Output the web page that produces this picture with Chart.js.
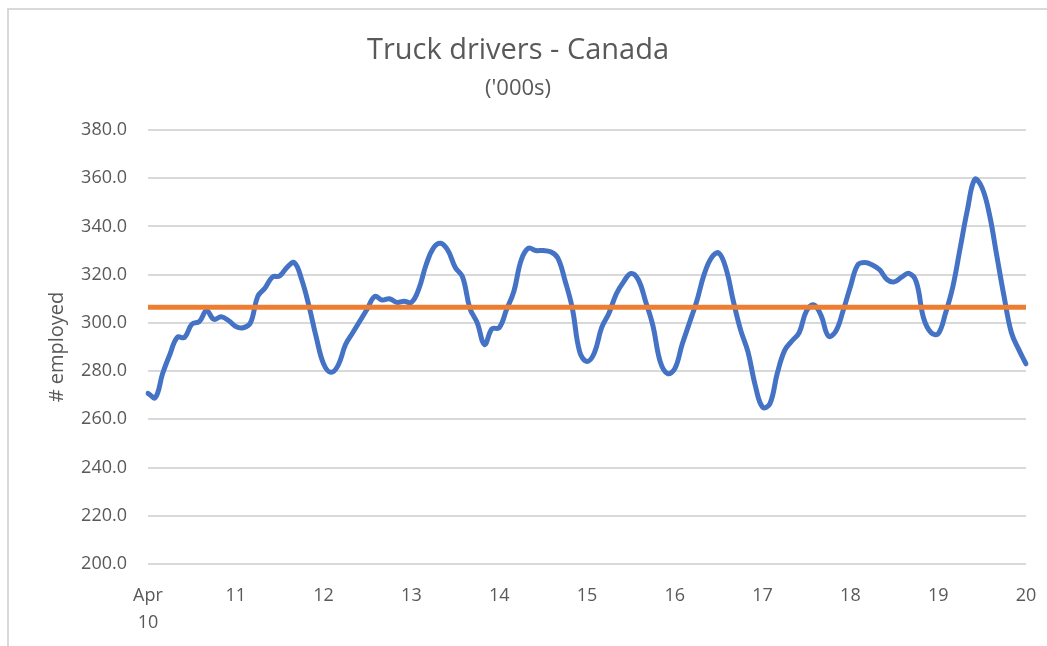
<!DOCTYPE html>
<html>
<head>
<meta charset="utf-8">
<script src="https://cdn.jsdelivr.net/npm/chart.js@4/dist/chart.umd.min.js"></script>
<style>
  html, body { margin: 0; padding: 0; background: #ffffff; }
  #wrap { position: relative; width: 1047px; height: 646px; overflow: hidden; }
  #frame { position: absolute; left: 7px; top: 8px; width: 1100px; height: 700px;
           border-top: 2px solid #d9d9d9; border-left: 2px solid #d9d9d9; box-sizing: border-box; }
  #c { position: absolute; left: 0; top: 0; }
</style>
</head>
<body>
<div id="wrap">
  <div id="frame"></div>
  <canvas id="c" width="1047" height="646"></canvas>
</div>
<script>
// ---- data ----
const titleText = 'Truck drivers - Canada';
const subtitleText = "('000s)";
const yAxisTitle = '# employed';

// monthly categories, Apr 2010 .. Apr 2020 (121 months)
const monthNames = ['Jan','Feb','Mar','Apr','May','Jun','Jul','Aug','Sep','Oct','Nov','Dec'];
const months = [];
for (let k = 0; k < 121; k++) {
  const m = (3 + k) % 12;
  const y = 2010 + Math.floor((3 + k) / 12);
  months.push(monthNames[m] + ' ' + y);
}

// year tick labels shown every 12 months
const yearTicks = [['Apr', '10'], '11', '12', '13', '14', '15', '16', '17', '18', '19', '20'];

// truck drivers employed ('000s)
const employed = [
  270.8, 269.0, 279.0, 287.0, 294.0, 294.0, 299.5, 300.5, 305.0, 301.5, 302.5, 301.0,
  298.5, 298.0, 300.0, 311.0, 314.5, 319.0, 319.5, 323.0, 325.0, 318.0, 307.0, 294.0,
  283.0, 279.5, 282.5, 291.0, 296.0, 301.0, 306.0, 311.0, 309.5, 310.0, 308.5, 309.0,
  308.5, 314.0, 324.0, 331.0, 333.0, 330.0, 323.0, 319.0, 306.0, 300.0, 291.0, 297.5,
  298.0, 305.5, 313.0, 326.0, 331.0, 330.0, 330.0, 329.5, 327.0, 317.5, 306.0, 288.0,
  284.0, 287.5, 298.0, 304.0, 312.0, 317.0, 320.5, 318.0, 309.0, 299.0, 284.0, 279.0,
  281.0, 291.0, 300.0, 309.0, 320.0, 327.0, 329.0, 322.5, 309.0, 297.0, 288.0, 274.0,
  265.0, 266.5, 279.0, 288.5, 292.5, 296.0, 305.0, 307.5, 303.0, 294.5, 296.5, 305.0,
  315.0, 324.0, 325.0, 324.0, 322.0, 318.0, 317.0, 319.0, 320.5, 317.0, 302.0, 296.0,
  295.5, 304.0, 315.0, 331.0, 347.0, 359.5, 356.0, 345.0, 328.0, 311.0, 296.0, 289.0,
  283.0
];

// average level line
const averageLevel = 306.5;
const averageLine = months.map(() => averageLevel);

// y axis range
const yMin = 200, yMax = 380, yStep = 20;

// ---- chart ----
const FONT = "'Open Sans', 'Liberation Sans', sans-serif";
const GREY = '#595959';

new Chart(document.getElementById('c'), {
  type: 'line',
  data: {
    labels: months,
    datasets: [
      {
        label: 'Average',
        data: averageLine,
        borderColor: '#ED7D31',
        borderWidth: 5,
        pointRadius: 0,
        tension: 0,
        order: 0
      },
      {
        label: 'Truck drivers',
        data: employed,
        borderColor: '#4472C4',
        borderWidth: 5,
        pointRadius: 0,
        tension: 0.4,
        borderCapStyle: 'round',
        borderJoinStyle: 'round',
        order: 1
      }
    ]
  },
  options: {
    responsive: false,
    animation: false,
    layout: { padding: { left: 10, right: 21, top: 36, bottom: 0 } },
    plugins: {
      legend: { display: false },
      tooltip: { enabled: false },
      title: {
        display: true,
        text: titleText,
        color: GREY,
        font: { family: FONT, size: 29, weight: 'normal', lineHeight: 1.0 },
        padding: { top: 0, bottom: 0 }
      },
      subtitle: {
        display: true,
        text: subtitleText,
        color: GREY,
        font: { family: FONT, size: 22, weight: 'normal', lineHeight: 1.0 },
        padding: { top: 13, bottom: 30 }
      }
    },
    scales: {
      x: {
        type: 'category',
        offset: false,
        grid: { display: false, drawTicks: false },
        border: { display: false },
        ticks: {
          autoSkip: false,
          maxRotation: 0,
          minRotation: 0,
          padding: 19,
          color: GREY,
          font: { family: FONT, size: 18, lineHeight: 1.48 },
          callback: function (val, idx) {
            return idx % 12 === 0 ? yearTicks[idx / 12] : null;
          }
        },
        afterFit: function (scale) {
          scale.height = 82;
          scale.paddingLeft = 0;
          scale.paddingRight = 0;
        }
      },
      y: {
        min: yMin,
        max: yMax,
        grid: { color: '#d9d9d9', lineWidth: 2, drawTicks: false },
        border: { display: false },
        ticks: {
          stepSize: yStep,
          padding: 21,
          color: GREY,
          font: { family: FONT, size: 18 },
          callback: function (v) { return Number(v).toFixed(1); }
        },
        title: {
          display: true,
          text: yAxisTitle,
          color: GREY,
          font: { family: FONT, size: 20, lineHeight: 1.2 },
          padding: { top: 35, bottom: 0 }
        },
        afterFit: function (scale) { scale.width = 138; }
      }
    }
  }
});
</script>
</body>
</html>
